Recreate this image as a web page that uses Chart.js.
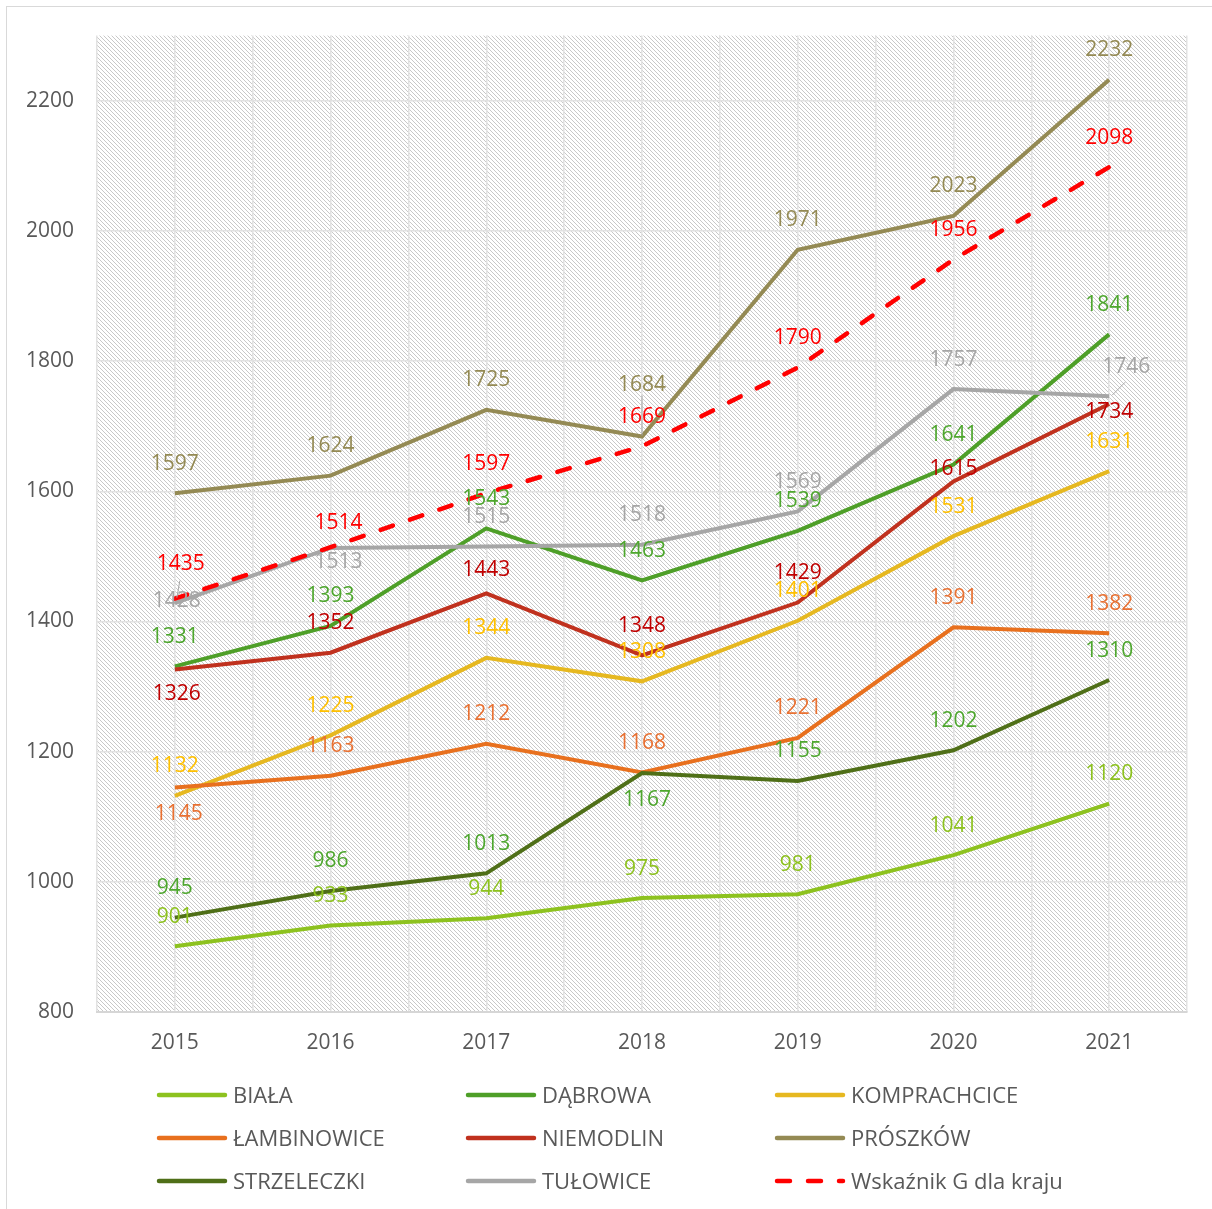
<!DOCTYPE html>
<html>
<head>
<meta charset="utf-8">
<script src="https://cdn.jsdelivr.net/npm/chart.js@4"></script>
<style>
  html, body { margin: 0; padding: 0; background: #fff; overflow: hidden; }
  #wrap { position: relative; width: 1212px; height: 1209px; overflow: hidden; }
  #frame { position: absolute; left: 6px; top: 6px; width: 1240px; height: 1240px;
           border: 1.5px solid #d9d9d9; box-sizing: border-box; }
  canvas { position: absolute; left: 0; top: 0; }
</style>
</head>
<body>
<div id="wrap">
  <div id="frame"></div>
  <canvas id="chart" width="1212" height="1209"></canvas>
</div>
<script>
const years = ["2015", "2016", "2017", "2018", "2019", "2020", "2021"];

const biala        = [901, 933, 944, 975, 981, 1041, 1120];
const dabrowa      = [1331, 1393, 1543, 1463, 1539, 1641, 1841];
const komprachcice = [1132, 1225, 1344, 1308, 1401, 1531, 1631];
const lambinowice  = [1145, 1163, 1212, 1168, 1221, 1391, 1382];
const niemodlin    = [1326, 1352, 1443, 1348, 1429, 1615, 1734];
const proszkow     = [1597, 1624, 1725, 1684, 1971, 2023, 2232];
const strzeleczki  = [945, 986, 1013, 1167, 1155, 1202, 1310];
const tulowice     = [1428, 1513, 1515, 1518, 1569, 1757, 1746];
const wskaznik     = [1435, 1514, 1597, 1669, 1790, 1956, 2098];

const yTicks = [800, 1000, 1200, 1400, 1600, 1800, 2000, 2200];

// label nudges where the default spot (above the point) was moved
const labelShift = {
  "PRÓSZKÓW|3": [0, -53],
  "Wskaźnik G dla kraju|0": [6, -36],
  "Wskaźnik G dla kraju|1": [8, -26],
  "TUŁOWICE|0": [2, -4],
  "TUŁOWICE|1": [8, 13],
  "TUŁOWICE|6": [17, -31],
  "NIEMODLIN|0": [2, 23],
  "NIEMODLIN|2": [0, -25],
  "NIEMODLIN|5": [0, -14],
  "NIEMODLIN|6": [0, 6],
  "ŁAMBINOWICE|0": [4, 25],
  "STRZELECZKI|3": [5, 25]
};
// small leader lines: start dx,dy / end dx,dy relative to the point
const leaders = {
  "PRÓSZKÓW|3": [0, -41, 0, -1],
  "Wskaźnik G dla kraju|0": [5, -18, 2, -1],
  "TUŁOWICE|6": [16, -14, 3, -1]
};

const FONT = '"Open Sans", "DejaVu Sans", sans-serif';
const TXT = "#595959";
const GRID = "#e2e2e2";

function series(label, data, color, labelColor, extra) {
    return Object.assign({
        label: label,
        data: data,
        borderColor: color,
        backgroundColor: color,
        labelColor: labelColor,
        borderWidth: 4,
        pointRadius: 0,
        pointHoverRadius: 0,
        tension: 0,
        fill: false
    }, extra || {});
}

const datasets = [
    series("BIAŁA", biala, "#8DC21F", "#8DC21F"),
    series("DĄBROWA", dabrowa, "#4E9F28", "#4EA72E"),
    series("KOMPRACHCICE", komprachcice, "#E6B820", "#FFC000"),
    series("ŁAMBINOWICE", lambinowice, "#E8701E", "#E97132"),
    series("NIEMODLIN", niemodlin, "#C0311E", "#C00000"),
    series("PRÓSZKÓW", proszkow, "#948A54", "#948A54"),
    series("STRZELECZKI", strzeleczki, "#4F6F18", "#4EA72E"),
    series("TUŁOWICE", tulowice, "#A6A6A6", "#A6A6A6"),
    series("Wskaźnik G dla kraju", wskaznik, "#FF0000", "#FF0000",
        { borderWidth: 4.5, borderDash: [13, 18], borderCapStyle: "round" })
];
// later series on top, like the original
datasets.forEach((d, i) => { d.order = datasets.length - i; });

const hatch = (() => {
    const c = document.createElement("canvas");
    c.width = 4; c.height = 4;
    const g = c.getContext("2d");
    g.fillStyle = "#ffffff";
    g.fillRect(0, 0, 4, 4);
    g.fillStyle = "#c8c8c8";
    for (let i = 0; i < 4; i++) g.fillRect(i, i, 1, 1);
    return c;
})();

const backdrop = {
    id: "backdrop",
    beforeDraw(chart) {
        const { ctx, chartArea: a } = chart;
        ctx.save();
        ctx.fillStyle = ctx.createPattern(hatch, "repeat");
        ctx.fillRect(a.left, a.top, a.right - a.left, a.bottom - a.top);
        ctx.restore();
    }
};

const valueLabels = {
    id: "valueLabels",
    afterDatasetsDraw(chart) {
        const ctx = chart.ctx;
        ctx.save();
        ctx.font = "21px " + FONT;
        ctx.textAlign = "center";
        ctx.textBaseline = "alphabetic";
        chart.data.datasets.forEach((ds, i) => {
            const meta = chart.getDatasetMeta(i);
            meta.data.forEach((pt, j) => {
                const key = ds.label + "|" + j;
                const s = labelShift[key] || [0, -31];
                const ld = leaders[key];
                if (ld) {
                    ctx.strokeStyle = "#a6a6a6";
                    ctx.lineWidth = 1;
                    ctx.beginPath();
                    ctx.moveTo(pt.x + ld[0], pt.y + ld[1]);
                    ctx.lineTo(pt.x + ld[2], pt.y + ld[3]);
                    ctx.stroke();
                }
                ctx.fillStyle = ds.labelColor;
                ctx.fillText(String(ds.data[j]), pt.x + s[0], pt.y + s[1] + 7.5);
            });
        });
        ctx.restore();
    }
};

const legendGrid = {
    id: "legendGrid",
    afterDraw(chart) {
        const ctx = chart.ctx;
        const cols = [157, 466, 775];
        const rows = [1095, 1138, 1181];
        ctx.save();
        ctx.font = "22px " + FONT;
        ctx.textBaseline = "alphabetic";
        ctx.textAlign = "left";
        chart.data.datasets.forEach((ds, i) => {
            const x = cols[i % 3], y = rows[Math.floor(i / 3)];
            ctx.strokeStyle = ds.borderColor;
            ctx.lineWidth = 4.5;
            ctx.lineCap = "round";
            ctx.setLineDash(ds.borderDash || []);
            ctx.beginPath();
            ctx.moveTo(x + 2, y);
            ctx.lineTo(x + 68, y);
            ctx.stroke();
            ctx.setLineDash([]);
            ctx.fillStyle = TXT;
            ctx.fillText(ds.label, x + 76, y + 8);
        });
        ctx.restore();
    }
};

const ctx = document.getElementById("chart").getContext("2d");

new Chart(ctx, {
    type: "line",
    data: { labels: years, datasets: datasets },
    options: {
        responsive: false,
        animation: false,
        events: [],
        layout: { padding: { top: 35, right: 25, left: 0, bottom: 0 } },
        plugins: {
            legend: { display: false },
            tooltip: { enabled: false }
        },
        scales: {
            x: {
                type: "category",
                offset: true,
                grid: { offset: false, color: GRID, lineWidth: 1.5, drawTicks: false },
                border: { display: true, color: "#d6d6d6", width: 2 },
                ticks: { color: TXT, font: { family: FONT, size: 21 }, padding: 18 },
                afterFit(s) { s.height = 197; }
            },
            x2: {
                type: "category",
                position: "bottom",
                offset: true,
                grid: { offset: true, color: GRID, lineWidth: 1.5, drawTicks: false },
                border: { display: false },
                ticks: { display: false },
                afterFit(s) { s.height = 0; }
            },
            y: {
                min: 800,
                max: 2300,
                bounds: "data",
                grid: { color: GRID, lineWidth: 1.5, drawTicks: false },
                border: { display: false },
                ticks: {
                    stepSize: 200,
                    includeBounds: false,
                    color: TXT,
                    font: { family: FONT, size: 21 },
                    padding: 23,
                    callback: v => String(v)
                },
                afterBuildTicks(s) { s.ticks = yTicks.map(v => ({ value: v })); },
                afterFit(s) { s.width = 97; }
            }
        }
    },
    plugins: [backdrop, valueLabels, legendGrid]
});
</script>
</body>
</html>
